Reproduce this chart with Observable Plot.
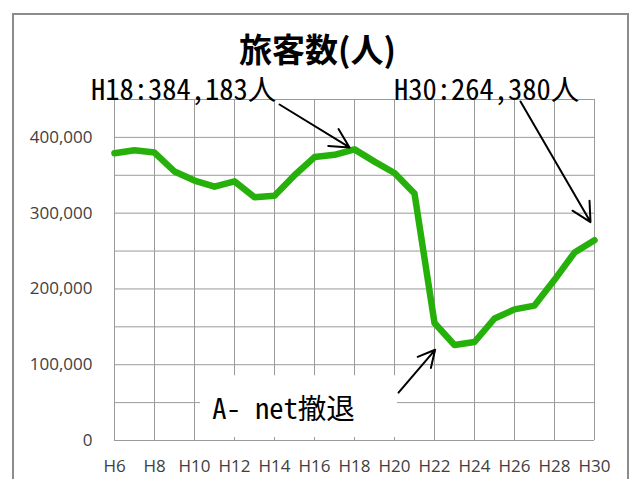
<!DOCTYPE html>
<html><head><meta charset="utf-8">
<script src="https://cdn.jsdelivr.net/npm/d3@7"></script>
<script src="https://cdn.jsdelivr.net/npm/@observablehq/plot@0.6"></script>
<style>
body{margin:0;background:#fff;}
#wrap{position:relative;width:635px;height:479px;overflow:hidden;background:#fff;}
#border{position:absolute;left:12px;top:13px;width:617px;height:520px;border:2px solid #8c8c8c;box-sizing:border-box;}
#chart{position:absolute;left:0;top:0;}
</style></head><body>
<div id="wrap"><div id="border"></div><div id="chart"></div></div>
<script>
const years = [6,7,8,9,10,11,12,13,14,15,16,17,18,19,20,21,22,23,24,25,26,27,28,29,30];
const passengers = [379000,383000,380000,355000,343000,335000,342000,321000,323000,350000,374000,377000,384183,368000,353000,326000,155000,126000,130000,161000,173000,178000,212000,248000,264380];
const xTickYears = [6,8,10,12,14,16,18,20,22,24,26,28,30];
const yTickValues = [0,100000,200000,300000,400000];
const yGridValues = [0,50000,100000,150000,200000,250000,300000,350000,400000,450000];
const titleText = "旅客数(人)";
const labelTexts = ["H18:384,183人","H30:264,380人","A- net撤退"];
const labelX = [9.45, 24.6, 14.45];
const labelY = [461800, 461800, 40100];
const arrowX1 = [14.25, 26.3, 20.2];
const arrowY1 = [443400, 447400, 63200];
const arrowX2 = [17.75, 29.8, 22.03];
const arrowY2 = [386800, 288200, 119700];
const boxX = [10.3, 20.15];
const boxY = [3900, 85500];

const data = years.map((y,i)=>({year:y, value:passengers[i]}));
const labels = labelTexts.map((t,i)=>({text:t, x:labelX[i], y:labelY[i]}));
const arrows = arrowX1.map((d,i)=>({x1:d, y1:arrowY1[i], x2:arrowX2[i], y2:arrowY2[i]}));
const box = [{x1:boxX[0], x2:boxX[1], y1:boxY[0], y2:boxY[1]}];
const green = "#26b00a";
const monoFont = "'Noto Sans Mono CJK JP','Noto Sans CJK JP',monospace";
const tickFont = "'Open Sans',sans-serif";
const fmt = d3.format(",");

const chart = Plot.plot({
  width:635, height:479,
  marginLeft:114, marginRight:41, marginTop:99, marginBottom:39,
  x:{domain:[6,30], label:null, axis:null},
  y:{domain:[0,450000], label:null, axis:null},
  style:{background:"transparent", overflow:"visible"},
  marks:[
    Plot.ruleY(yGridValues,{stroke:"#9a9a9a", strokeWidth:1}),
    Plot.ruleX(xTickYears,{stroke:"#9a9a9a", strokeWidth:1}),
    Plot.text(xTickYears,{x:d=>d, frameAnchor:"bottom", dy:26, text:d=>"H"+d, fontFamily:tickFont, fontSize:"17px", fill:"#404040", lineAnchor:"middle"}),
    Plot.text(yTickValues,{y:d=>d, frameAnchor:"left", dx:-22, text:d=>fmt(d), textAnchor:"end", fontFamily:tickFont, fontSize:"17px", fill:"#404040", lineAnchor:"middle"}),
    Plot.rect(box,{x1:"x1",x2:"x2",y1:"y1",y2:"y2",fill:"white"}),
    Plot.line(data,{x:"year", y:"value", stroke:green, strokeWidth:6.5, strokeLinejoin:"round"}),
    Plot.arrow(arrows,{x1:"x1",y1:"y1",x2:"x2",y2:"y2",stroke:"black",strokeWidth:2,headLength:16,headAngle:55,bend:0}),
    Plot.text(labels,{x:"x",y:"y",text:"text",fontFamily:monoFont,fontSize:28.5,fill:"black",textAnchor:"middle",lineAnchor:"middle"}),
    Plot.text([titleText],{frameAnchor:"top",dx:-37,dy:-48,text:d=>d,fontFamily:"'Noto Sans CJK JP',sans-serif",fontWeight:"bold",fontSize:33,fill:"black",lineAnchor:"middle"})
  ]
});
document.getElementById("chart").appendChild(chart);
</script>
</body></html>
